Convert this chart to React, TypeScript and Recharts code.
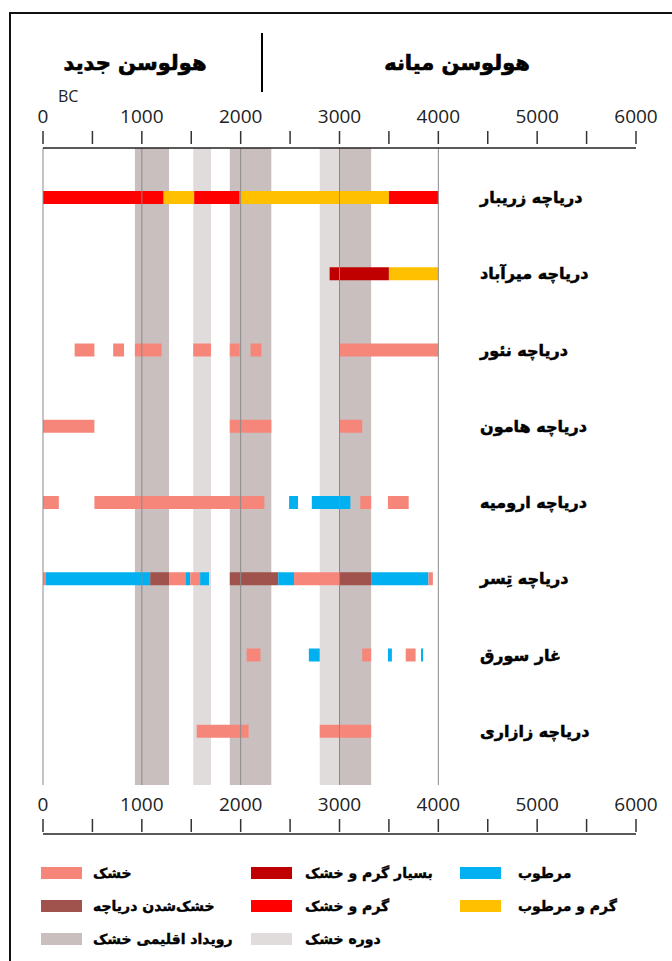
import React from 'react';
import { BarChart, Bar, XAxis, YAxis, Cell, ReferenceArea, ReferenceLine } from 'recharts';

// ---------- categories ----------
const lakes = [
  'دریاچه زریبار',
  'دریاچه میرآباد',
  'دریاچه نئور',
  'دریاچه هامون',
  'دریاچه ارومیه',
  'دریاچه تِسر',
  'غار سورق',
  'دریاچه زازاری',
];

// ---------- segments per record: [start BC, end BC, type] ----------
const segZaribar: [number, number, string][] = [
  [0, 1220, 'hotDry'], [1220, 1530, 'warmWet'], [1530, 1990, 'hotDry'], [1990, 3500, 'warmWet'], [3500, 4000, 'hotDry'],
];
const segMirabad: [number, number, string][] = [
  [2900, 3500, 'veryHotDry'], [3500, 4000, 'warmWet'],
];
const segNeor: [number, number, string][] = [
  [320, 520, 'dry'], [710, 820, 'dry'], [930, 1200, 'dry'], [1520, 1700, 'dry'], [1890, 1990, 'dry'], [2100, 2210, 'dry'], [3000, 4000, 'dry'],
];
const segHamoun: [number, number, string][] = [
  [0, 520, 'dry'], [1890, 2310, 'dry'], [3000, 3230, 'dry'],
];
const segUrmia: [number, number, string][] = [
  [0, 160, 'dry'], [520, 2240, 'dry'], [2490, 2580, 'wet'], [2720, 3110, 'wet'], [3210, 3320, 'dry'], [3490, 3700, 'dry'],
];
const segTasr: [number, number, string][] = [
  [0, 30, 'dry'], [30, 1085, 'wet'], [1085, 1280, 'dryLake'], [1280, 1440, 'dry'], [1440, 1490, 'wet'], [1490, 1590, 'dry'],
  [1590, 1680, 'wet'], [1890, 2380, 'dryLake'], [2380, 2540, 'wet'], [2540, 3000, 'dry'], [3000, 3320, 'dryLake'],
  [3320, 3900, 'wet'], [3900, 3945, 'dry'],
];
const segSoreq: [number, number, string][] = [
  [2060, 2200, 'dry'], [2690, 2800, 'wet'], [3230, 3320, 'dry'], [3490, 3530, 'wet'], [3670, 3770, 'dry'], [3825, 3845, 'wet'],
];
const segZazari: [number, number, string][] = [
  [1555, 2080, 'dry'], [2800, 3320, 'dry'],
];
const segmentsByLake = [segZaribar, segMirabad, segNeor, segHamoun, segUrmia, segTasr, segSoreq, segZazari];

// ---------- background climate bands ----------
const dryEvents: [number, number][] = [[930, 1275], [1890, 2310], [3000, 3320]];
const dryPeriods: [number, number][] = [[1520, 1700], [2800, 3000]];

// ---------- axis ticks ----------
const xTicks = [0, 500, 1000, 1500, 2000, 2500, 3000, 3500, 4000, 4500, 5000, 5500, 6000];
const gridLines = [0, 1000, 2000, 3000, 4000];

// ---------- header / legend texts ----------
const headerNew = 'هولوسن جدید';
const headerMid = 'هولوسن میانه';
const unitLabel = 'BC';

const COLORS: Record<string, string> = {
  dry: '#F6867A',
  dryLake: '#A0524D',
  veryHotDry: '#C00000',
  hotDry: '#FF0000',
  wet: '#00B0F0',
  warmWet: '#FFC000',
  dryEvent: '#C9BFBF',
  dryPeriod: '#E1DCDC',
  gap: 'rgba(0,0,0,0)',
};

const legendItems: { key: string; label: string }[][] = [
  [{ key: 'dry', label: 'خشک' }, { key: 'veryHotDry', label: 'بسیار گرم و خشک' }, { key: 'wet', label: 'مرطوب' }],
  [{ key: 'dryLake', label: 'خشک‌شدن دریاچه' }, { key: 'hotDry', label: 'گرم و خشک' }, { key: 'warmWet', label: 'گرم و مرطوب' }],
  [{ key: 'dryEvent', label: 'رویداد اقلیمی خشک' }, { key: 'dryPeriod', label: 'دوره خشک' }],
];

// ---------- build stacked (gap, segment, gap, segment ...) pieces ----------
const pieceTypes: string[][] = segmentsByLake.map((segs) => {
  const t: string[] = [];
  segs.forEach((s) => { t.push('gap'); t.push(s[2]); });
  return t;
});
const maxPieces = Math.max(...pieceTypes.map((t) => t.length));
const rows = lakes.map((name, i) => {
  const row: Record<string, any> = { name };
  for (let k = 0; k < maxPieces; k++) row[`p${k}`] = 0;
  let cursor = 0;
  let k = 0;
  segmentsByLake[i].forEach(([s, e]) => {
    row[`p${k++}`] = s - cursor;
    row[`p${k++}`] = e - s;
    cursor = e;
  });
  return row;
});

const TICK_FONT = '"Open Sans", "Liberation Sans", sans-serif';
const FA_FONT = '"DejaVu Sans", sans-serif';

const TopTick = (props: any) => {
  const { x, y, payload } = props;
  const v = payload.value;
  return (
    <g>
      <line x1={x} x2={x} y1={y - 17} y2={y - 4} stroke="#333" strokeWidth={1.5} />
      {v % 1000 === 0 && (
        <text x={x} y={y - 25} textAnchor="middle" fontFamily={TICK_FONT} fontSize={19} fill="#222">{v}</text>
      )}
    </g>
  );
};

const BottomTick = (props: any) => {
  const { x, y, payload } = props;
  const v = payload.value;
  return (
    <g>
      <line x1={x} x2={x} y1={y + 34} y2={y + 47} stroke="#333" strokeWidth={1.5} />
      {v % 1000 === 0 && (
        <text x={x} y={y + 26} textAnchor="middle" fontFamily={TICK_FONT} fontSize={19} fill="#222">{v}</text>
      )}
    </g>
  );
};

const BottomAxisLine = (props: any) => {
  const vb = props.viewBox || {};
  return <line x1={vb.x} x2={vb.x + vb.width} y1={vb.y + 49} y2={vb.y + 49} stroke="#222" strokeWidth={1.5} />;
};

const RowTick = (props: any) => {
  const { x, y, payload } = props;
  return (
    <text x={x - 156} y={y} dy={6} textAnchor="start" fontFamily={FA_FONT} fontWeight="bold" fontSize={16}
      fill="#000" stroke="#000" strokeWidth={0.5}>
      {payload.value}
    </text>
  );
};

export default function App() {
  const legendColX = [[41, 93], [251, 305], [460, 518]];
  const legendRowY = [873, 906, 939];
  return (
    <div style={{ position: 'absolute', left: 0, top: 0, width: 672, height: 961, background: '#fff', overflow: 'hidden' }}>
      <div style={{ position: 'absolute', left: 0, top: 0 }}>
        <BarChart
          layout="vertical"
          width={672}
          height={961}
          data={rows}
          margin={{ top: 100, right: 0, bottom: 116, left: 43 }}
          barSize={13}
        >
          <XAxis
            xAxisId="top"
            orientation="top"
            type="number"
            domain={[0, 6000]}
            ticks={xTicks}
            interval={0}
            height={48}
            tickSize={0}
            tickMargin={0}
            tickLine={false}
            axisLine={{ stroke: '#222', strokeWidth: 1.5 }}
            tick={<TopTick />}
            allowDataOverflow
          />
          <XAxis
            xAxisId="bottom"
            orientation="bottom"
            type="number"
            domain={[0, 6000]}
            ticks={xTicks}
            interval={0}
            height={60}
            tickSize={0}
            tickMargin={0}
            tickLine={false}
            axisLine={false}
            tick={<BottomTick />}
            label={{ content: <BottomAxisLine /> }}
            allowDataOverflow
          />
          <YAxis
            yAxisId="rows"
            type="category"
            dataKey="name"
            orientation="right"
            width={36}
            padding={{ top: 11, bottom: 16 }}
            axisLine={false}
            tickLine={false}
            tickSize={0}
            tickMargin={0}
            interval={0}
            tick={<RowTick />}
          />
          <YAxis yAxisId="full" type="category" dataKey="name" hide />
          {dryPeriods.map(([a, b], i) => (
            <ReferenceArea key={`dp${i}`} xAxisId="top" yAxisId="full" x1={a} x2={b}
              fill={COLORS.dryPeriod} fillOpacity={1} stroke="none" />
          ))}
          {dryEvents.map(([a, b], i) => (
            <ReferenceArea key={`de${i}`} xAxisId="top" yAxisId="full" x1={a} x2={b}
              fill={COLORS.dryEvent} fillOpacity={1} stroke="none" />
          ))}
          {Array.from({ length: maxPieces }, (_, k) => (
            <Bar key={`p${k}`} dataKey={`p${k}`} stackId="s" xAxisId="top" yAxisId="rows" isAnimationActive={false}>
              {rows.map((_, i) => (
                <Cell key={`c${i}`} fill={COLORS[pieceTypes[i][k] || 'gap']} />
              ))}
            </Bar>
          ))}
          {gridLines.map((g) => (
            <ReferenceLine key={`g${g}`} xAxisId="top" yAxisId="full" x={g} stroke="#8a8a8a" strokeWidth={1} />
          ))}
        </BarChart>
      </div>
      <div style={{ position: 'absolute', left: 9, top: 12, width: 700, height: 960, borderLeft: '2px solid #111', borderTop: '2px solid #111' }} />
      <svg width={672} height={961} style={{ position: 'absolute', left: 0, top: 0, pointerEvents: 'none' }}>
        <text x={135} y={70} textAnchor="middle" fontFamily={FA_FONT} fontWeight="bold" fontSize={21} fill="#000" stroke="#000" strokeWidth={0.7}>{headerNew}</text>
        <text x={457} y={70} textAnchor="middle" fontFamily={FA_FONT} fontWeight="bold" fontSize={21} fill="#000" stroke="#000" strokeWidth={0.7}>{headerMid}</text>
        <line x1={262} x2={262} y1={33} y2={92} stroke="#000" strokeWidth={2} />
        <text x={58} y={102} fontFamily={TICK_FONT} fontSize={16} fill="#222">{unitLabel}</text>
        {legendItems.map((row, r) =>
          row.map((it, c) => (
            <g key={`${r}-${c}`}>
              <rect x={legendColX[c][0]} y={legendRowY[r] - 6} width={41} height={12} fill={COLORS[it.key]} />
              <text x={legendColX[c][1]} y={legendRowY[r] + 5} fontFamily={FA_FONT} fontWeight="bold" fontSize={14}
                fill="#000" stroke="#000" strokeWidth={0.4}>{it.label}</text>
            </g>
          ))
        )}
      </svg>
    </div>
  );
}
